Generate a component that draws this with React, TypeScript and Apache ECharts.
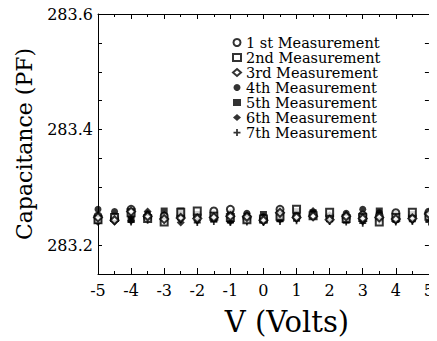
import React, { useEffect, useRef } from "react";
import * as echarts from "echarts";

const voltages = [-5, -4.5, -4, -3.5, -3, -2.5, -2, -1.5, -1, -0.5, 0, 0.5, 1, 1.5, 2, 2.5, 3, 3.5, 4, 4.5, 5];

const seriesNames = [
  "1 st Measurement",
  "2nd Measurement",
  "3rd Measurement",
  "4th Measurement",
  "5th Measurement",
  "6th Measurement",
  "7th Measurement",
];

const m1 = [283.250, 283.246, 283.262, 283.248, 283.250, 283.249, 283.251, 283.259, 283.262, 283.247, 283.246, 283.262, 283.250, 283.252, 283.249, 283.247, 283.252, 283.250, 283.256, 283.249, 283.257];
const m2 = [283.244, 283.248, 283.256, 283.246, 283.240, 283.257, 283.259, 283.250, 283.248, 283.244, 283.245, 283.250, 283.262, 283.251, 283.257, 283.246, 283.248, 283.240, 283.248, 283.257, 283.250];
const m3 = [283.248, 283.243, 283.258, 283.250, 283.245, 283.247, 283.246, 283.248, 283.250, 283.249, 283.243, 283.256, 283.248, 283.250, 283.244, 283.250, 283.246, 283.248, 283.245, 283.246, 283.254];
const m4 = [283.262, 283.258, 283.250, 283.254, 283.249, 283.252, 283.248, 283.254, 283.256, 283.255, 283.249, 283.252, 283.254, 283.253, 283.250, 283.255, 283.262, 283.256, 283.253, 283.250, 283.252];
const m5 = [283.243, 283.250, 283.245, 283.248, 283.259, 283.259, 283.253, 283.245, 283.244, 283.250, 283.253, 283.246, 283.258, 283.256, 283.246, 283.243, 283.250, 283.259, 283.249, 283.253, 283.246];
const m6 = [283.240, 283.241, 283.242, 283.258, 283.252, 283.239, 283.242, 283.250, 283.241, 283.243, 283.241, 283.244, 283.245, 283.259, 283.252, 283.251, 283.241, 283.244, 283.242, 283.243, 283.248];
const m7 = [283.252, 283.244, 283.240, 283.243, 283.247, 283.244, 283.239, 283.241, 283.239, 283.240, 283.239, 283.241, 283.242, 283.254, 283.241, 283.240, 283.238, 283.242, 283.240, 283.241, 283.240];

const measurements = [m1, m2, m3, m4, m5, m6, m7];

const yTickLabels = ["283.2", "283.4", "283.6"];

const PLUS = "path://M3,0H5V3H8V5H5V8H3V5H0V3H3Z";
const symbols = ["emptyCircle", "emptyRect", "emptyDiamond", "circle", "rect", "diamond", PLUS];
const symbolSizes = [7, 7, 8, 7, 7, 8, 7];

const FONT = "'DejaVu Serif', 'Liberation Serif', serif";

export default function App() {
  const ref = useRef<HTMLDivElement>(null);

  useEffect(() => {
    if (!ref.current) return;
    const chart = echarts.init(ref.current, null, { renderer: "svg" });

    const drawOrder = [3, 4, 5, 6, 0, 1, 2];
    const series = drawOrder.map((i) => ({
      name: seriesNames[i],
      type: "scatter",
      symbol: symbols[i],
      symbolSize: symbolSizes[i],
      itemStyle: { color: "#000", borderColor: "#000", borderWidth: i < 3 ? 1.2 : 0 },
      data: voltages.map((v, k) => [v, measurements[i][k]]),
      z: i < 3 ? 3 : 2,
    }));

    const axisLine = { show: true, onZero: false, lineStyle: { color: "#000", width: 1 } };

    chart.setOption({
      animation: false,
      backgroundColor: "#fff",
      grid: { left: 98, right: 4, top: 14, bottom: 65.5, containLabel: false },
      legend: {
        orient: "vertical",
        left: 232,
        top: 35,
        padding: 0,
        itemGap: 0,
        itemWidth: 8,
        itemHeight: 7,
        data: seriesNames.map((n, i) => ({ name: n, icon: symbols[i] })),
        textStyle: { fontFamily: FONT, fontSize: 14.5, color: "#000" },
      },
      xAxis: [
        {
          type: "value",
          min: -5,
          max: 5,
          interval: 1,
          position: "bottom",
          axisLine,
          splitLine: { show: false },
          axisTick: { inside: true, length: 6, lineStyle: { color: "#000" } },
          minorTick: { show: true, splitNumber: 2, length: 3, lineStyle: { color: "#000" } },
          axisLabel: { color: "#000", fontFamily: FONT, fontSize: 16, margin: 8 },
          name: "V (Volts)",
          nameLocation: "middle",
          nameGap: 33,
          nameTextStyle: { color: "#000", fontFamily: FONT, fontSize: 29, padding: [0, 0, 0, 47] },
        },
        {
          type: "value",
          min: -5,
          max: 5,
          interval: 1,
          position: "top",
          axisLine,
          splitLine: { show: false },
          axisTick: { inside: true, length: 5, lineStyle: { color: "#000" } },
          minorTick: { show: true, splitNumber: 2, length: 3, lineStyle: { color: "#000" } },
          axisLabel: { show: false },
        },
      ],
      yAxis: [
        {
          type: "value",
          min: 283.15,
          max: 283.6,
          interval: 0.05,
          position: "left",
          axisLine,
          splitLine: { show: false },
          axisTick: { inside: true, length: 4, lineStyle: { color: "#000" } },
          axisLabel: {
            color: "#000",
            fontFamily: FONT,
            fontSize: 16,
            margin: 5,
            showMinLabel: true,
            showMaxLabel: true,
            formatter: (v: number) => {
              const s = v.toFixed(1);
              return Math.abs(v - parseFloat(s)) < 1e-6 && yTickLabels.includes(s) ? s : "";
            },
          },
          name: "Capacitance (PF)",
          nameLocation: "middle",
          nameGap: 63,
          nameTextStyle: { color: "#000", fontFamily: FONT, fontSize: 22 },
        },
        {
          type: "value",
          min: 283.15,
          max: 283.6,
          interval: 0.05,
          position: "right",
          axisLine,
          splitLine: { show: false },
          axisTick: { inside: true, length: 4, lineStyle: { color: "#000" } },
          axisLabel: { show: false },
        },
      ],
      series,
    });

    return () => chart.dispose();
  }, []);

  return <div ref={ref} style={{ width: 437, height: 341, marginLeft: -8, marginTop: -8 }} />;
}
